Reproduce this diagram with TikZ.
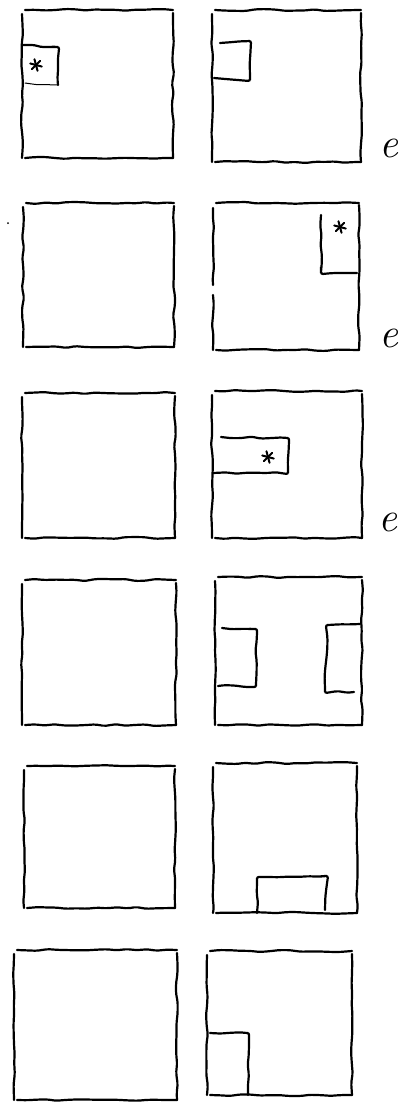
\documentclass[tikz,border=0pt]{standalone}
\usetikzlibrary{decorations.pathmorphing}

% four loose sides of a sketched panel: x1, y1, x2, y2 (pixels, y downwards)
\newcommand{\sketchbox}[4]{%
  \draw[pen] (#1+3,#2) -- (#3,#2);
  \draw[pen] (#1,#2+4) -- (#1,#4);
  \draw[pen] (#3,#2+3) -- (#3,#4);
  \draw[pen] (#1+3,#4) -- (#3,#4);
}
% small hand-drawn star
\newcommand{\splat}[2]{%
  \foreach \a in {15,75,135}
    \draw[ink, shift={(#1,#2)}] (\a:6) -- (\a+180:6);
}

\begin{document}
\begin{tikzpicture}[
  x=1pt, y=-1pt,
  pen/.style={line width=2.2pt, line cap=round, rounded corners=2pt,
              decorate, decoration={random steps, segment length=10pt, amplitude=1pt}},
  ink/.style={line width=2pt, line cap=round},
  letter/.style={font=\fontsize{42}{42}\selectfont\itshape, inner sep=0pt},
]
\pgfmathsetseed{7}
\useasboundingbox (0,0) rectangle (403,1104);

% ── Row 1 ──
\sketchbox{22}{10}{173}{158}
\sketchbox{212}{10}{361}{162}
\draw[pen] (22,45) -- (58,47) -- (58,85);
\draw[pen, line width=1pt] (58,85) -- (25,83);
\splat{36}{65}
\draw[pen] (220,43) -- (250,41) -- (250,80) -- (214,78);
\node[letter] (e1) at (389,148) {e};

% ── Row 2 ──
\fill (8,223) circle (1);
\sketchbox{23}{203}{174}{347}
\draw[pen] (216,203) -- (359,203);
\draw[pen] (213,208) -- (213,285);
\draw[pen] (213,295) -- (213,350);
\draw[pen] (359,205) -- (359,350);
\draw[pen] (216,350) -- (359,350);
\draw[pen] (321,215) -- (321,273) -- (357,273);
\splat{340}{227}
\node[letter] (e2) at (389,338) {e};

% ── Row 3 ──
\sketchbox{22}{393}{175}{538}
\sketchbox{212}{391}{362}{538}
\draw[pen] (221,437) -- (288,438) -- (288,473) -- (213,473);
\splat{268}{457}
\node[letter] (e3) at (388,522) {e};

% ── Row 4 ──
\sketchbox{22}{580}{176}{725}
\sketchbox{215}{577}{362}{725}
\draw[pen] (222,628) -- (256,629) -- (256,686) -- (218,686);
\draw[pen] (360,624) -- (327,625) -- (325,692) -- (354,692);

% ── Row 5 ──
\sketchbox{24}{766}{175}{908}
\sketchbox{213}{763}{357}{913}
\draw[pen] (257,913) -- (257,878) -- (327,876) -- (325,910);

% ── Row 6 ──
\sketchbox{14}{950}{177}{1100}
\sketchbox{207}{951}{352}{1095}
\draw[pen] (210,1033) -- (248,1033) -- (248,1095);

\end{tikzpicture}
\end{document}
